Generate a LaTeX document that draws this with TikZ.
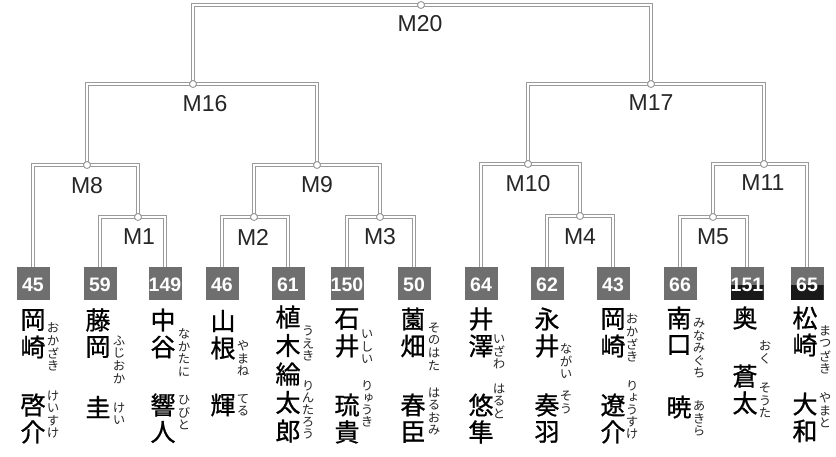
\documentclass[tikz,border=0pt]{standalone}
\usepackage{fontspec}
\newfontfamily\labfont{Liberation Sans}
\newfontfamily\jpfont[FakeBold=0.8]{Noto Sans CJK JP}
\newfontfamily\rubyfont[RawFeature=+vert]{Noto Sans CJK JP}
\definecolor{linegray}{HTML}{9A9A9A}
\definecolor{boxgray}{HTML}{6F6F6F}
\newcommand\vstack[6]{\foreach \ch [count=\i from 0] in {#6} {\node[#1] (#2-\i) at (#3, {#4+#5*\i}) {\ch};}}
\begin{document}
\begin{tikzpicture}[x=1pt,y=-1pt,
  dbl/.style={draw=linegray, double=white, double distance=2pt, line width=1pt},
  jn/.style={circle, draw=linegray, fill=white, line width=0.9pt, minimum size=7pt, inner sep=0pt},
  mlab/.style={font=\labfont\fontsize{23}{23}\selectfont, text=black!85, inner sep=0pt},
  seed/.style={rectangle, fill=boxgray, minimum width=33pt, minimum height=33pt, inner sep=0pt},
  dark/.style={path picture={\fill[black!90] ([yshift=-1.5pt]path picture bounding box.west) rectangle (path picture bounding box.south east);}},
  kj/.style={font=\jpfont\fontsize{25}{25}\selectfont, inner sep=0pt},
  rb/.style={font=\rubyfont\fontsize{12.5}{12.5}\selectfont, inner sep=0pt, text=black!85},
  num/.style={inner sep=0pt, text=white, font=\labfont\bfseries\fontsize{19.5}{19.5}\selectfont},
]
\useasboundingbox[fill=white] (0,0) rectangle (836,457);

% seed boxes
\node[seed] (b1) at (33,283.5) {};
\node[seed] (b2) at (100,283.5) {};
\node[seed] (b3) at (165,283.5) {};
\node[seed] (b4) at (222,283.5) {};
\node[seed] (b5) at (288,283.5) {};
\node[seed] (b6) at (347,283.5) {};
\node[seed] (b7) at (414,283.5) {};
\node[seed] (b8) at (481,283.5) {};
\node[seed] (b9) at (547,283.5) {};
\node[seed] (b10) at (613,283.5) {};
\node[seed] (b11) at (680,283.5) {};
\node[seed,dark] (b12) at (747,283.5) {};
\node[seed,dark] (b13) at (807,283.5) {};
\foreach \b/\n in {b1/45,b2/59,b3/149,b4/46,b5/61,b6/150,b7/50,b8/64,b9/62,b10/43,b11/66,b12/151,b13/65}
  \node[num] (\b t) at ([yshift=-1.5pt]\b.center) {\n};

% junction points
\coordinate (m1) at (138,217);
\coordinate (m2) at (254,217);
\coordinate (m3) at (380,217);
\coordinate (m4) at (580,216);
\coordinate (m5) at (713,217);
\coordinate (m8) at (87,165);
\coordinate (m9) at (317,165);
\coordinate (m10) at (528,164);
\coordinate (m11) at (764,164);
\coordinate (m16) at (193,84);
\coordinate (m17) at (651,84);
\coordinate (m20) at (421,5);

% brackets
\draw[dbl] (b2.north) |- (m1) -| (b3.north);
\draw[dbl] (b4.north) |- (m2) -| (b5.north);
\draw[dbl] (b6.north) |- (m3) -| (b7.north);
\draw[dbl] (b9.north) |- (m4) -| (b10.north);
\draw[dbl] (b11.north) |- (m5) -| (b12.north);
\draw[dbl] (b1.north) |- (m8) -| (m1);
\draw[dbl] (m2) |- (m9) -| (m3);
\draw[dbl] (b8.north) |- (m10) -| (m4);
\draw[dbl] (m5) |- (m11) -| (b13.north);
\draw[dbl] (m8) |- (m16) -| (m9);
\draw[dbl] (m10) |- (m17) -| (m11);
\draw[dbl] (m16) |- (m20) -| (m17);

\foreach \m in {m1,m2,m3,m4,m5,m8,m9,m10,m11,m16,m17,m20} \node[jn] (\m c) at (\m) {};

% match labels
\node[mlab] (l20) at (420,24) {M20};
\node[mlab] (l16) at (205,104) {M16};
\node[mlab] (l17) at (651,103) {M17};
\node[mlab] (l8) at (87,186) {M8};
\node[mlab] (l9) at (317,185) {M9};
\node[mlab] (l10) at (528,184) {M10};
\node[mlab] (l11) at (763,183) {M11};
\node[mlab] (l1) at (139,237) {M1};
\node[mlab] (l2) at (253,237) {M2};
\node[mlab] (l3) at (380,237) {M3};
\node[mlab] (l4) at (580,237) {M4};
\node[mlab] (l5) at (713,237) {M5};

% names (kanji)
\vstack{kj}{k1a}{33}{320}{27}{岡,崎}
\vstack{kj}{k1b}{33}{405}{27}{啓,介}
\vstack{kj}{k2a}{98}{320}{27}{藤,岡}
\vstack{kj}{k2b}{98}{407}{27}{圭}
\vstack{kj}{k3a}{163}{320}{27}{中,谷}
\vstack{kj}{k3b}{163}{405}{27}{響,人}
\vstack{kj}{k4a}{223}{321}{27}{山,根}
\vstack{kj}{k4b}{223}{405}{27}{輝}
\vstack{kj}{k5a}{288}{317}{28.5}{植,木,綸,太,郎}
\vstack{kj}{k6a}{347}{319}{27}{石,井}
\vstack{kj}{k6b}{347}{405}{27}{琉,貴}
\vstack{kj}{k7a}{413}{319}{27}{薗,畑}
\vstack{kj}{k7b}{413}{405}{27}{春,臣}
\vstack{kj}{k8a}{481}{319}{27}{井,澤}
\vstack{kj}{k8b}{481}{405}{27}{悠,隼}
\vstack{kj}{k9a}{547}{319}{27}{永,井}
\vstack{kj}{k9b}{547}{405}{27}{奏,羽}
\vstack{kj}{k10a}{613}{319}{27}{岡,崎}
\vstack{kj}{k10b}{613}{405}{27}{遼,介}
\vstack{kj}{k11a}{679}{318}{27}{南,口}
\vstack{kj}{k11b}{679}{407}{27}{暁}
\vstack{kj}{k12a}{745}{318}{27}{奥}
\vstack{kj}{k12b}{745}{376}{27}{蒼,太}
\vstack{kj}{k13a}{805}{318}{27}{松,崎}
\vstack{kj}{k13b}{805}{404}{27}{大,和}

% furigana
\vstack{rb}{r1a}{53}{328}{12.5}{お,か,ざ,き}
\vstack{rb}{r1b}{53}{396}{12.5}{け,い,す,け}
\vstack{rb}{r2a}{119}{341}{12.5}{ふ,じ,お,か}
\vstack{rb}{r2b}{119}{408}{12.5}{け,い}
\vstack{rb}{r3a}{184}{334}{12.5}{な,か,た,に}
\vstack{rb}{r3b}{184}{400}{12.5}{ひ,び,と}
\vstack{rb}{r4a}{243}{346}{12.5}{や,ま,ね}
\vstack{rb}{r4b}{243}{399}{12.5}{て,る}
\vstack{rb}{r5a}{308}{331}{12.5}{う,え,き}
\vstack{rb}{r5b}{308}{386}{12}{り,ん,た,ろ,う}
\vstack{rb}{r6a}{367}{334}{12.5}{い,し,い}
\vstack{rb}{r6b}{367}{386}{12}{り,ゅ,う,き}
\vstack{rb}{r7a}{434}{328}{12.5}{そ,の,は,た}
\vstack{rb}{r7b}{434}{393}{12.5}{は,る,お,み}
\vstack{rb}{r8a}{499}{339}{12.5}{い,ざ,わ}
\vstack{rb}{r8b}{499}{389}{12.5}{は,る,と}
\vstack{rb}{r9a}{566}{349}{12.5}{な,が,い}
\vstack{rb}{r9b}{566}{396}{12.5}{そ,う}
\vstack{rb}{r10a}{632}{319}{12.5}{お,か,ざ,き}
\vstack{rb}{r10b}{632}{386}{12}{り,ょ,う,す,け}
\vstack{rb}{r11a}{699}{323}{12.5}{み,な,み,ぐ,ち}
\vstack{rb}{r11b}{699}{406}{12.5}{あ,き,ら}
\vstack{rb}{r12a}{765}{346}{12.5}{お,く}
\vstack{rb}{r12b}{765}{388}{12.5}{そ,う,た}
\vstack{rb}{r13a}{825}{331}{12.5}{ま,つ,ざ,き}
\vstack{rb}{r13b}{825}{398}{12.5}{や,ま,と}
\end{tikzpicture}
\end{document}
